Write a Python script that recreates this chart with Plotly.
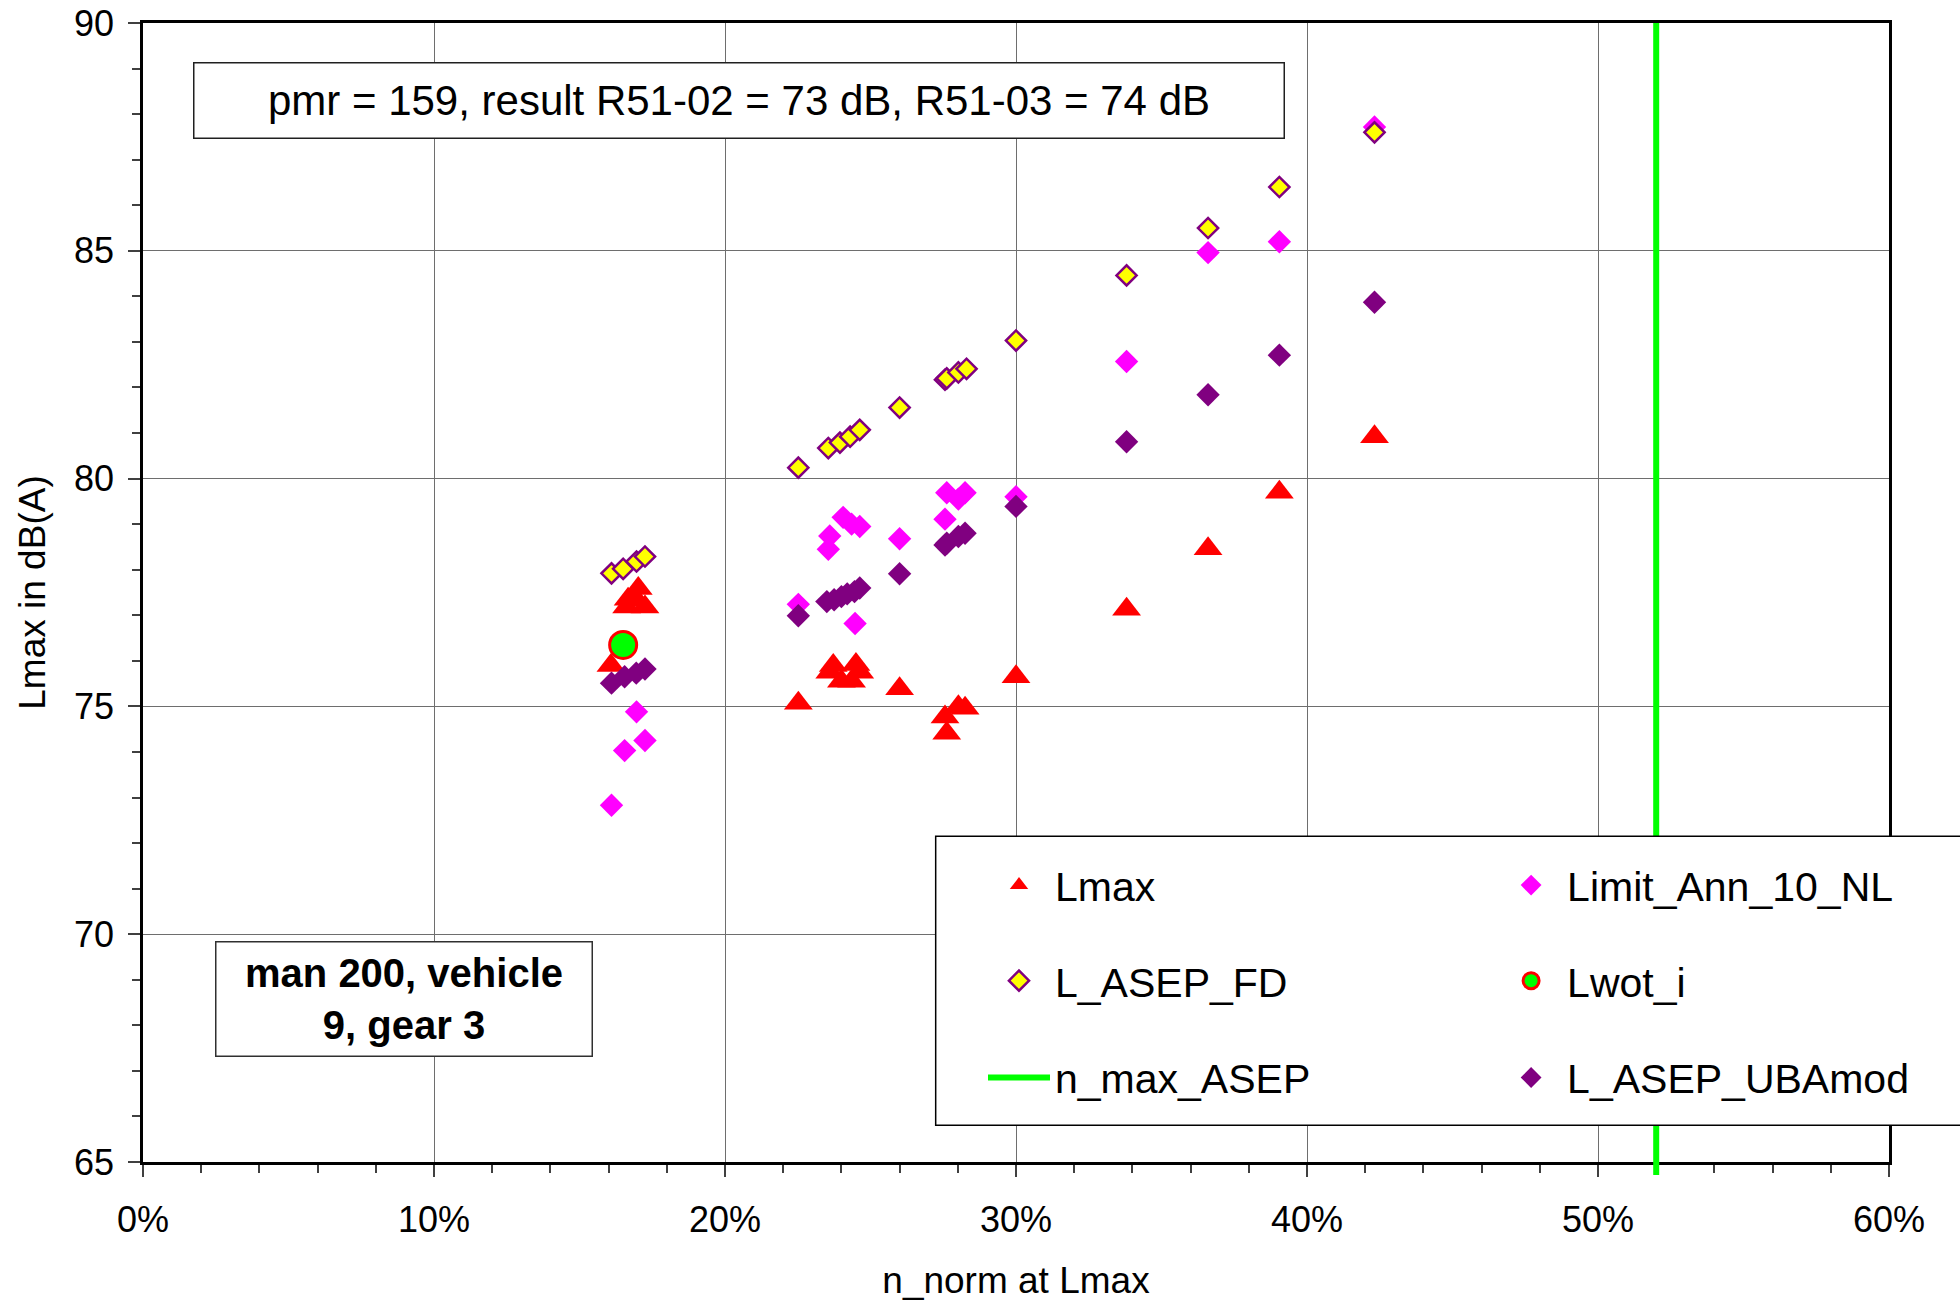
import plotly.graph_objects as go

# ---------------- data ----------------
# n_norm at Lmax in %, levels in dB(A)
lmax_x = [16.08, 16.62, 16.67, 16.96, 17.02, 17.25, 22.52, 23.60, 23.72, 24.00, 24.35, 24.50,
          24.63, 26.00, 27.56, 27.62, 28.02, 28.25, 30.00, 33.80, 36.60, 39.05, 42.32]
lmax_y = [75.90, 77.18, 77.35, 77.34, 77.59, 77.18, 75.07, 75.75, 75.90, 75.55, 75.55, 75.92,
          75.75, 75.39, 74.77, 74.41, 74.99, 74.96, 75.65, 77.13, 78.46, 79.70, 80.92]

limit_x = [16.10, 16.55, 16.96, 17.25, 22.52, 23.55, 23.60, 24.06, 24.35, 24.47, 24.63, 26.00,
           27.56, 27.62, 28.02, 28.25, 30.00, 33.80, 36.60, 39.05, 42.32]
limit_y = [72.83, 74.03, 74.88, 74.25, 77.24, 78.45, 78.74, 79.15, 79.00, 76.82, 78.95, 78.68,
           79.11, 79.69, 79.55, 79.69, 79.60, 82.57, 84.96, 85.20, 87.72]

fd_x = [16.10, 16.50, 16.96, 17.25, 22.52, 23.55, 23.95, 24.30, 24.63, 26.00, 27.56, 27.62,
        28.02, 28.30, 30.00, 33.80, 36.60, 39.05, 42.32]
fd_y = [77.92, 78.02, 78.18, 78.29, 80.24, 80.67, 80.79, 80.92, 81.07, 81.56, 82.17, 82.20,
        82.33, 82.41, 83.03, 84.46, 85.50, 86.40, 87.60]

uba_x = [16.10, 16.55, 16.95, 17.25, 22.52, 23.50, 23.75, 24.00, 24.20, 24.45, 24.63, 26.00,
         27.56, 27.62, 28.02, 28.25, 30.00, 33.80, 36.60, 39.05, 42.32]
uba_y = [75.51, 75.65, 75.73, 75.82, 76.99, 77.30, 77.34, 77.41, 77.47, 77.52, 77.60, 77.91,
         78.54, 78.58, 78.73, 78.80, 79.39, 80.81, 81.84, 82.71, 83.87]

lwot_x = [16.50]
lwot_y = [76.35]

n_max_asep = 52.0

x_range = [0, 60]
y_range = [65, 90]

info_text = "pmr = 159, result R51-02 = 73 dB, R51-03 = 74 dB"
case_text = "<b>man 200, vehicle<br>9, gear 3</b>"

FONT = "Liberation Sans, Arial, sans-serif"

fig = go.Figure()

fig.add_trace(go.Scatter(
    x=lmax_x, y=lmax_y, mode="markers", name="Lmax", legend="legend", showlegend=True,
    marker=dict(symbol="triangle-up", size=25, color="#FF0000", line=dict(width=0))))
fig.add_trace(go.Scatter(
    x=limit_x, y=limit_y, mode="markers", name="Limit_Ann_10_NL", legend="legend2",
    marker=dict(symbol="diamond", size=18, color="#FF00FF", line=dict(width=0))))
fig.add_trace(go.Scatter(
    x=fd_x, y=fd_y, mode="markers", name="L_ASEP_FD", legend="legend3",
    marker=dict(symbol="diamond", size=15.5, color="#FFFF00",
                line=dict(width=2.5, color="#800080"))))
fig.add_trace(go.Scatter(
    x=lwot_x, y=lwot_y, mode="markers", name="Lwot_i", legend="legend4",
    marker=dict(symbol="circle", size=27, color="#00FF00",
                line=dict(width=3, color="#FF0000"))))
fig.add_trace(go.Scatter(
    x=[n_max_asep, n_max_asep], y=y_range, mode="lines", name="n_max_ASEP",
    legend="legend5", line=dict(color="#00FF00", width=6)))
fig.add_trace(go.Scatter(
    x=uba_x, y=uba_y, mode="markers", name="L_ASEP_UBAmod", legend="legend6",
    marker=dict(symbol="diamond", size=18, color="#800080", line=dict(width=0))))

axis_common = dict(
    showline=True, linecolor="black", linewidth=2.5, mirror=True,
    showgrid=True, gridcolor="#6e6e6e", gridwidth=1.3, zeroline=False,
    ticks="outside", ticklen=12, tickwidth=1.6, tickcolor="#404040",
    tickfont=dict(family=FONT, size=36, color="black"), automargin=False,
)

fig.update_layout(
    width=1960, height=1301,
    showlegend=True,
    margin=dict(l=143, r=71, t=23, b=139, autoexpand=False),
    paper_bgcolor="white", plot_bgcolor="white",
    font=dict(family=FONT, color="black"),
    xaxis=dict(range=x_range, dtick=10, ticksuffix="%",
               minor=dict(ticks="outside", ticklen=8, dtick=2, tickwidth=1.6,
                          tickcolor="#404040", showgrid=False),
               title=dict(text="n_norm at Lmax", font=dict(family=FONT, size=37), standoff=30),
               ticklabelstandoff=12, **axis_common),
    yaxis=dict(range=y_range, dtick=5,
               minor=dict(ticks="outside", ticklen=8, dtick=1, tickwidth=1.6,
                          tickcolor="#404040", showgrid=False),
               title=dict(text="Lmax in dB(A)", font=dict(family=FONT, size=37), standoff=18),
               ticklabelstandoff=7, **axis_common),
    xaxis2=dict(overlaying="x", anchor="y", side="bottom", range=x_range, dtick=10,
                showgrid=False, showline=False, zeroline=False, showticklabels=False,
                ticks="inside", ticklen=12, tickwidth=1.6, tickcolor="#404040",
                minor=dict(ticks="inside", ticklen=8, dtick=2, tickwidth=1.6,
                           tickcolor="#404040")),
    yaxis2=dict(overlaying="y", anchor="x", side="left", range=y_range, dtick=5,
                showgrid=False, showline=False, zeroline=False, showticklabels=False,
                ticks="inside", ticklen=12, tickwidth=1.6, tickcolor="#404040",
                minor=dict(ticks="inside", ticklen=8, dtick=1, tickwidth=1.6,
                           tickcolor="#404040")),
)

leg_font = dict(family=FONT, size=41, color="black")
col_x = [0.4811, 0.7744]
row_y = [0.2428, 0.1589, 0.0739]
legend_names = ["legend", "legend2", "legend3", "legend4", "legend5", "legend6"]
for i, ln in enumerate(legend_names):
    fig.update_layout({ln: dict(x=col_x[i % 2], y=row_y[i // 2], xanchor="left",
                                yanchor="middle", bgcolor="rgba(0,0,0,0)", borderwidth=0,
                                font=leg_font, itemwidth=62, visible=True)})

# green line continues slightly below the axis; legend frame
fig.add_shape(type="line", xref="x", yref="paper", x0=n_max_asep, x1=n_max_asep,
              y0=-0.0114, y1=0, line=dict(color="#00FF00", width=6), layer="above")
fig.add_shape(type="rect", xref="paper", yref="paper", x0=0.4540, x1=1.05,
              y0=0.0322, y1=0.2861, fillcolor="white", line=dict(color="black", width=1.5),
              layer="above")

fig.add_annotation(x=20.49, y=88.30, xref="x", yref="y", text=info_text, showarrow=False,
                   font=dict(family=FONT, size=42, color="black"), bgcolor="white",
                   bordercolor="#202020", borderwidth=1.5, borderpad=0,
                   width=1089, height=74, align="center")
fig.add_annotation(x=8.98, y=68.58, xref="x", yref="y", text=case_text, showarrow=False,
                   font=dict(family=FONT, size=40, color="black"), bgcolor="white",
                   bordercolor="#303030", borderwidth=1.5, borderpad=0,
                   width=375, height=113, align="center")

fig.write_html("out.html")
